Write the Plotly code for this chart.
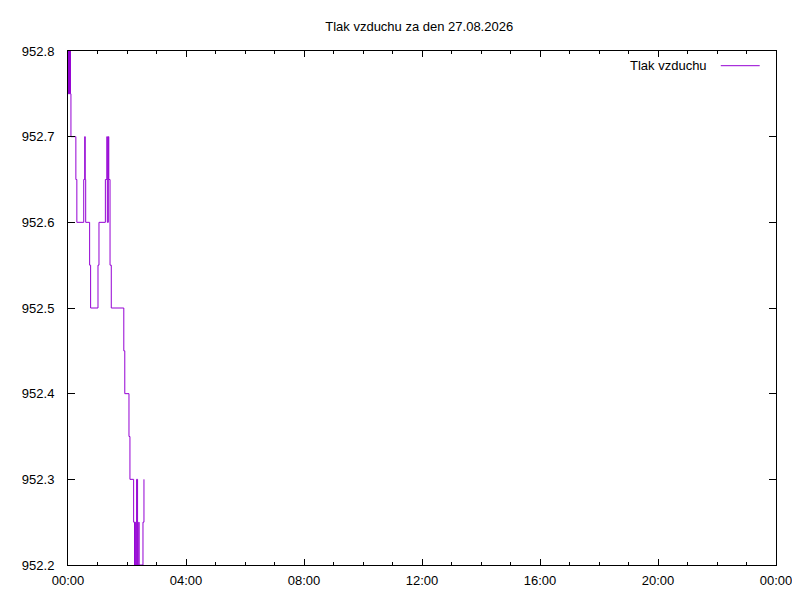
import datetime as dt

import plotly.graph_objects as go

# minuty od půlnoci a naměřený tlak (hPa)
minutes = [0, 1, 2, 3, 4, 5, 6, 16, 18, 32, 34, 35, 36, 44, 46, 61, 63,
           76, 79, 80, 82, 83, 85.5, 88, 113.5, 115.5, 124, 126, 133.5,
           135.5, 136, 137, 139.5, 141.5, 144, 144.5, 152.5, 154.5]
pressure = [952.8, 952.75, 952.8, 952.75, 952.8, 952.75, 952.7, 952.65,
            952.6, 952.65, 952.7, 952.65, 952.6, 952.55, 952.5, 952.55,
            952.6, 952.65, 952.7, 952.6, 952.7, 952.65, 952.55, 952.5,
            952.45, 952.4, 952.35, 952.3, 952.25, 952.2, 952.25, 952.2,
            952.3, 952.2, 952.25, 952.2, 952.25, 952.3]

day = dt.datetime(2026, 8, 27)
times = [day + dt.timedelta(minutes=m) for m in minutes]

y_ticks = [952.2, 952.3, 952.4, 952.5, 952.6, 952.7, 952.8]

LINE = "#9400D3"
FONT = "Liberation Sans, Arial, sans-serif"

fig = go.Figure(
    go.Scatter(
        x=times,
        y=pressure,
        mode="lines",
        line=dict(color=LINE, width=1, shape="hv"),
        name="Tlak vzduchu",
        showlegend=False,
    )
)

# stránka má okraj 8 px, proto jsou okraje o 8 px posunuté
fig.update_layout(
    width=800,
    height=600,
    margin=dict(l=60, r=32, t=43, b=43, autoexpand=False),
    paper_bgcolor="white",
    plot_bgcolor="white",
    font=dict(family=FONT, size=13, color="black"),
    title=dict(
        text="Tlak vzduchu za den 27.08.2026",
        x=0.514,
        xanchor="center",
        xref="container",
        y=0.97,
        yanchor="middle",
        yref="container",
        automargin=False,
        font=dict(size=13),
    ),
)

fig.update_xaxes(
    range=[day, day + dt.timedelta(days=1)],
    tickformat="%H:%M",
    dtick=4 * 3600 * 1000,
    tick0=day,
    ticks="inside",
    ticklen=6,
    tickcolor="black",
    minor=dict(dtick=3600 * 1000, ticks="inside", ticklen=3, tickcolor="black"),
    showline=True,
    linecolor="black",
    linewidth=1,
    mirror="ticks",
    showgrid=False,
    zeroline=False,
    automargin=False,
    ticklabelstandoff=3,
)

fig.update_yaxes(
    range=[952.2, 952.8],
    tickvals=y_ticks,
    tickformat=".1f",
    ticks="inside",
    ticklen=7,
    tickcolor="black",
    showline=True,
    linecolor="black",
    linewidth=1,
    mirror="ticks",
    showgrid=False,
    zeroline=False,
    automargin=False,
    ticklabelstandoff=10,
)

# legenda ve stylu gnuplotu: text vlevo, vzorek čáry vpravo
fig.add_annotation(
    text="Tlak vzduchu",
    xref="paper", yref="paper",
    x=0.905, y=0.971,
    xanchor="right", yanchor="middle",
    showarrow=False,
    font=dict(size=13),
)
fig.add_shape(
    type="line",
    xref="paper", yref="paper",
    x0=0.922, x1=0.977, y0=0.9714, y1=0.9714,
    line=dict(color=LINE, width=1),
)

fig.write_html("out.html")
